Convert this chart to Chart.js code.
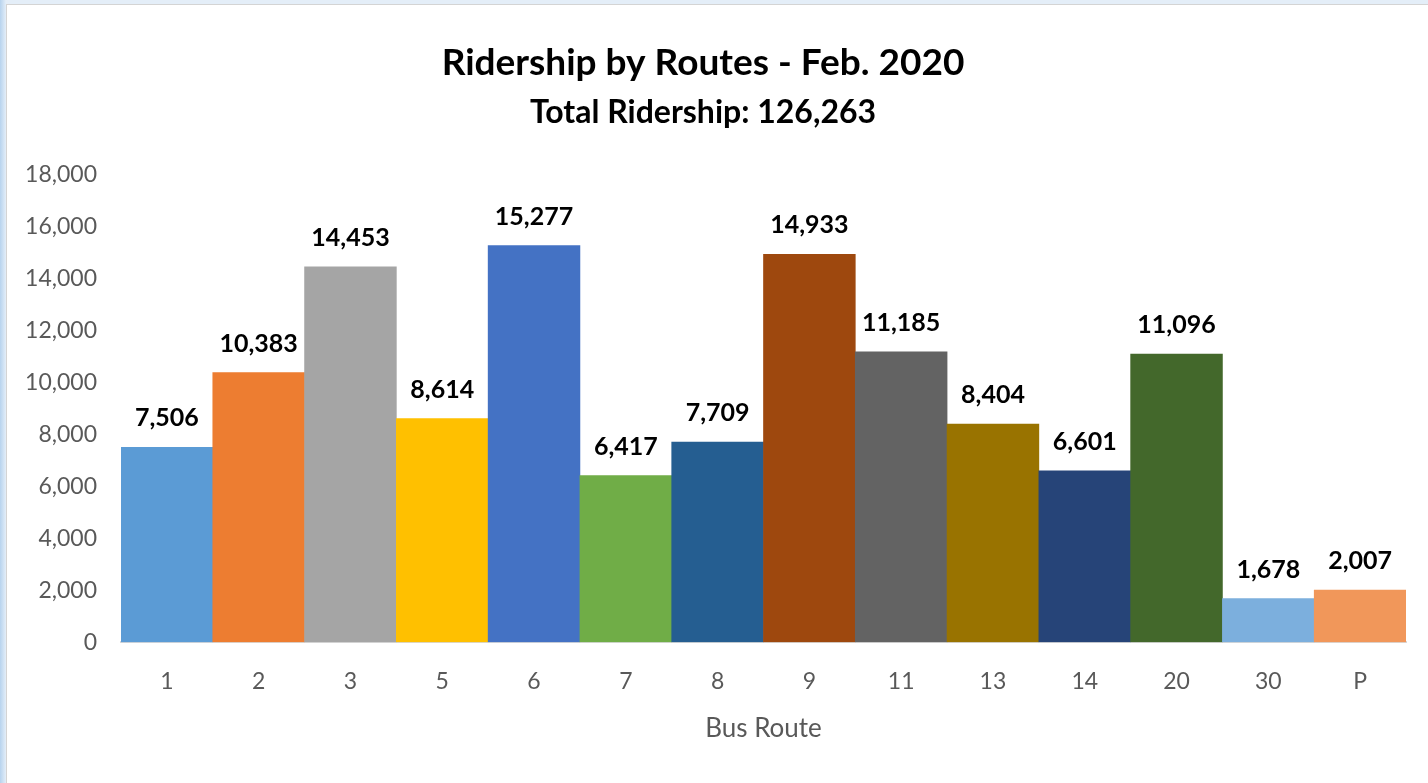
<!DOCTYPE html>
<html>
<head>
<meta charset="utf-8">
<script src="https://cdn.jsdelivr.net/npm/chart.js@4"></script>
<style>
  html, body { margin: 0; padding: 0; }
  body { width: 1428px; height: 783px; background: linear-gradient(to right, #b7d3ee, #e4eef8 6px); position: relative; overflow: hidden; }
  #frame { position: absolute; left: 6px; top: 4px; right: 0; bottom: 0; background: #fff; border-top: 1px solid #d4d4d4; border-left: 1px solid #d4d4d4; }
  #wrap { position: absolute; left: 0; top: 0; width: 1428px; height: 783px; }
</style>
</head>
<body>
<div id="frame"></div>
<div id="wrap"><canvas id="mycanvas"></canvas></div>
<script>
var routes = ['1', '2', '3', '5', '6', '7', '8', '9', '11', '13', '14', '20', '30', 'P'];
var riders = [7506, 10383, 14453, 8614, 15277, 6417, 7709, 14933, 11185, 8404, 6601, 11096, 1678, 2007];
var barColors = ['#5B9BD5', '#ED7D31', '#A5A5A5', '#FFC000', '#4472C4', '#70AD47', '#255E91',
                 '#9E480E', '#636363', '#997300', '#264478', '#43682B', '#7CAFDD', '#F1975A'];
var yTicks = [0, 2000, 4000, 6000, 8000, 10000, 12000, 14000, 16000, 18000];

var fontName = 'Lato, "Open Sans", sans-serif';

// labels above the bars
var valueLabels = {
	id: 'valueLabels',
	afterDatasetsDraw: function(chart) {
		var ctx = chart.ctx;
		var meta = chart.getDatasetMeta(0);
		ctx.save();
		ctx.font = 'bold 25px ' + fontName;
		ctx.fillStyle = '#000';
		ctx.textAlign = 'center';
		ctx.textBaseline = 'alphabetic';
		meta.data.forEach(function(bar, i) {
			ctx.fillText(riders[i].toLocaleString('en-US'), bar.x, bar.y - 21);
		});
		ctx.restore();
	}
};

var chartdata = {
	labels: routes,
	datasets: [{
		label: 'Ridership',
		data: riders,
		backgroundColor: barColors,
		borderWidth: 0,
		barPercentage: 1,
		categoryPercentage: 1
	}]
};

var ctx = document.getElementById('mycanvas');
var barGraph = new Chart(ctx, {
	type: 'bar',
	data: chartdata,
	plugins: [valueLabels],
	options: {
		responsive: true,
		maintainAspectRatio: false,
		animation: false,
		layout: { padding: { left: 0, right: 22, top: 0, bottom: 39 } },
		plugins: {
			legend: { display: false },
			tooltip: { enabled: false },
			title: {
				display: true,
				text: 'Ridership by Routes - Feb. 2020',
				color: '#000',
				font: { family: fontName, size: 37, weight: 'bold' },
				padding: { top: 41, bottom: 8 }
			},
			subtitle: {
				display: true,
				text: 'Total Ridership: 126,263',
				color: '#000',
				font: { family: fontName, size: 32, weight: 'bold' },
				padding: { top: 0, bottom: 43 }
			}
		},
		scales: {
			x: {
				grid: { display: false, drawTicks: false },
				border: { display: true, color: '#d9d9d9', width: 2 },
				ticks: { color: '#595959', font: { family: fontName, size: 23 }, padding: 26 },
				title: {
					display: true,
					text: 'Bus Route',
					color: '#595959',
					font: { family: fontName, size: 26 },
					padding: { top: -9, bottom: 0 }
				}
			},
			y: {
				min: 0,
				max: 18000,
				afterFit: function(scale) { scale.width = 121; },
				afterBuildTicks: function(scale) {
					scale.ticks = yTicks.map(function(v) { return { value: v }; });
				},
				grid: { display: false, drawTicks: false },
				border: { display: false },
				ticks: {
					color: '#595959',
					font: { family: fontName, size: 23 },
					padding: 24,
					callback: function(v) { return v.toLocaleString('en-US'); }
				}
			}
		}
	}
});
</script>
</body>
</html>
